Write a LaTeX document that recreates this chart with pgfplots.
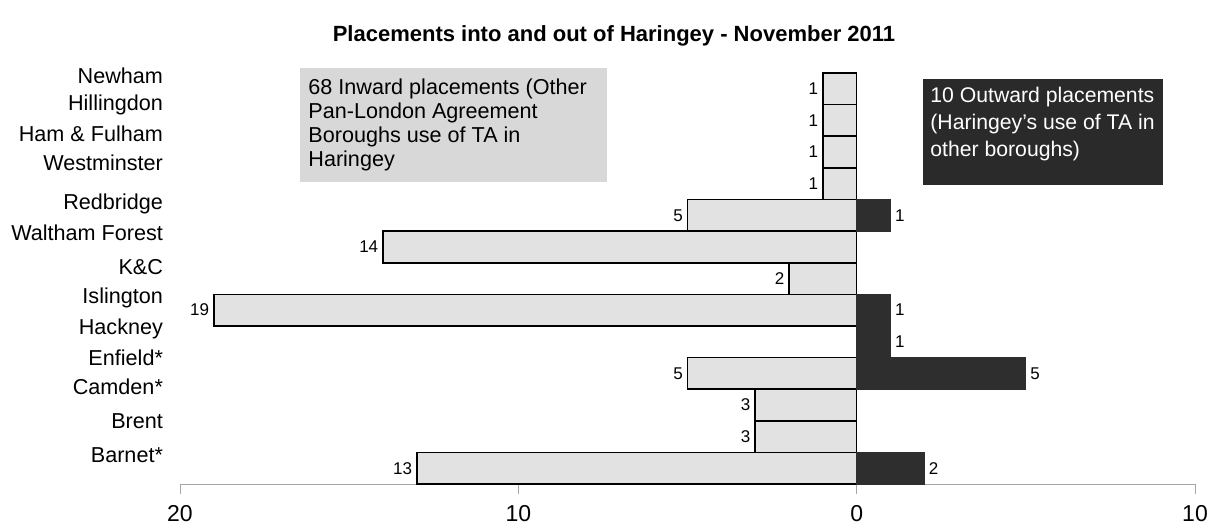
\documentclass[border=0pt]{standalone}
\usepackage{pgfplots}
\pgfplotsset{compat=1.18}
\usepackage{fontspec}
\setmainfont{Liberation Sans}
\definecolor{inbar}{HTML}{E2E2E2}
\definecolor{outbar}{HTML}{2E2E2E}
\definecolor{inbox}{HTML}{D8D8D8}
\definecolor{outbox}{HTML}{2A2A2A}
\begin{document}
\begin{tikzpicture}
\begin{axis}[
  at={(90pt,-242pt)}, anchor=south west,
  scale only axis, width=507.5pt, height=205.5pt,
  xmin=-20, xmax=10, ymin=-0.5, ymax=12.5,
  xbar, bar width=1, bar shift=0,
  clip=false,
  axis x line*=bottom, axis y line*=left,
  y axis line style={draw=none},
  x axis line style={gray!70, thin},
  xtick={-20,-10,0,10}, xticklabels={20,10,0,10},
  xtick style={gray!70, thin},
  tick align=outside, major tick length=5pt,
  xticklabel style={font=\fontsize{11.5}{12}\selectfont, yshift=-2pt},
  ytick={0.42,1.49,2.56,3.48,4.42,5.40,6.35,7.45,8.37,9.66,10.57,11.49,12.40},
  yticklabels={Barnet*,Brent,Camden*,Enfield*,Hackney,Islington,K\&C,Waltham Forest,Redbridge,Westminster,Ham \& Fulham,Hillingdon,Newham},
  ytick style={draw=none},
  yticklabel style={font=\fontsize{10.8}{12}\selectfont, xshift=0pt},
  /pgf/number format/assume math mode=true,
  point meta=explicit symbolic,
  nodes near coords,
  every node near coord/.append style={font=\fontsize{8.5}{10}\selectfont, inner sep=2pt},
]
\addplot[draw=black, line width=0.8pt, fill=inbar,
  every node near coord/.append style={anchor=east}]
  coordinates {
  (-13,0) [13]
  (-3,1) [3]
  (-3,2) [3]
  (-5,3) [5]
  (-19,5) [19]
  (-2,6) [2]
  (-14,7) [14]
  (-5,8) [5]
  (-1,9) [1]
  (-1,10) [1]
  (-1,11) [1]
  (-1,12) [1]
  };
\addplot[draw=outbar, line width=0.6pt, fill=outbar,
  every node near coord/.append style={anchor=west}]
  coordinates {
  (2,0) [2]
  (5,3) [5]
  (1,4) [1]
  (1,5) [1]
  (1,8) [1]
  };
\end{axis}
\node[font=\bfseries\fontsize{11}{12}\selectfont] at (307pt,-18pt) {Placements into and out of Haringey - November 2011};
\fill[inbox] (150pt,-34pt) rectangle (303.5pt,-91pt);
\node[anchor=north west, align=left, inner sep=0pt, font=\fontsize{10.8}{12}\selectfont] at (154pt,-39pt)
  {68 Inward placements (Other\\Pan-London Agreement\\Boroughs use of TA in\\Haringey};
\fill[outbox] (461.5pt,-39.5pt) rectangle (581.5pt,-92.5pt);
\node[anchor=north west, align=left, inner sep=0pt, text=white, font=\fontsize{10.6}{13.5}\selectfont] at (465pt,-43.5pt)
  {10 Outward placements\\(Haringey's use of TA in\\other boroughs)};
\pgfresetboundingbox
\useasboundingbox (0,0) rectangle (607pt,-263.5pt);
\end{tikzpicture}
\end{document}
